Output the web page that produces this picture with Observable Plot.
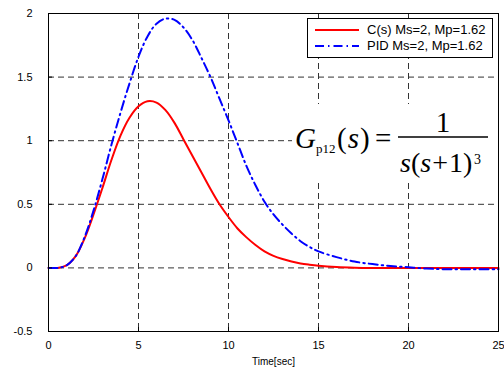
<!DOCTYPE html>
<html>
<head>
<meta charset="utf-8">
<script src="https://cdn.jsdelivr.net/npm/d3@7"></script>
<script src="https://cdn.jsdelivr.net/npm/@observablehq/plot@0.6"></script>
<style>
  html, body { margin: 0; padding: 0; background: #fff; }
  #wrap { position: relative; width: 504px; height: 368px; font-family: "Liberation Sans", Arial, sans-serif; }
  #legend { position: absolute; left: 307px; top: 18px; width: 186px; height: 40px; border: 1px solid #000; background: #fff; box-sizing: border-box; }
  .item { position: absolute; left: 0; height: 16px; font-size: 13px; line-height: 16px; color: #000; white-space: nowrap; }
  .item svg { position: absolute; left: 7px; top: 4px; }
  .item span { position: absolute; left: 59px; top: 0; }
  #formula { position: absolute; left: 0; top: 0; }
</style>
</head>
<body>
<div id="wrap"></div>
<script>
const time = [0,0.5,1,1.5,2,2.5,3,3.5,4,4.5,5,5.5,6,6.5,7,7.5,8,8.5,9,9.5,10,10.5,11,11.5,12,12.5,13,13.5,14,14.5,15,16,17,18,19,20,21,22,23,24,25];
const cs  = [0,0,0.02,0.09,0.23,0.42,0.63,0.85,1.04,1.18,1.27,1.31,1.30,1.24,1.14,1.01,0.88,0.75,0.62,0.50,0.40,0.31,0.24,0.18,0.13,0.095,0.07,0.05,0.035,0.025,0.017,0.007,0.002,0,0,0,0,0,0,0,0];
const pid = [0,0,0.02,0.09,0.24,0.45,0.70,0.97,1.22,1.45,1.66,1.82,1.92,1.96,1.95,1.89,1.79,1.65,1.50,1.33,1.16,0.98,0.80,0.65,0.52,0.42,0.34,0.27,0.21,0.165,0.13,0.085,0.05,0.03,0.015,0.005,-0.005,-0.01,-0.01,-0.01,-0.01];
const xTicks = [0,5,10,15,20,25];
const yTicks = [-0.5,0,0.5,1,1.5,2];
const xGrid = [5,10,15,20];
const yGrid = [0,0.5,1,1.5];
const seriesNames = ["C(s) Ms=2, Mp=1.62", "PID Ms=2, Mp=1.62"];

const rowsC = time.map((t,i) => ({t, v: cs[i]}));
const rowsP = time.map((t,i) => ({t, v: pid[i]}));
const fmt = d => String(d);

const chart = Plot.plot({
  width: 504, height: 368,
  marginLeft: 48, marginRight: 6, marginTop: 13, marginBottom: 37,
  style: { fontFamily: "Liberation Sans, Arial, sans-serif", fontSize: "11px", color: "#000", background: "#fff" },
  x: { domain: [0,25] },
  y: { domain: [-0.5,2] },
  marks: [
    Plot.gridX(xGrid, { stroke: "#333", strokeOpacity: 1, strokeDasharray: "6,4" }),
    Plot.gridY(yGrid, { stroke: "#333", strokeOpacity: 1, strokeDasharray: "6,4" }),
    Plot.line(rowsC, { x: "t", y: "v", stroke: "#ff0000", strokeWidth: 2, curve: "catmull-rom" }),
    Plot.line(rowsP, { x: "t", y: "v", stroke: "#0000ff", strokeWidth: 2, strokeDasharray: "9,4,1.5,4", curve: "catmull-rom" }),
    Plot.frame({ stroke: "#000", strokeWidth: 1 }),
    Plot.axisX(xTicks, { anchor: "bottom", tickSize: -4, tickPadding: 14, label: null, fontSize: 11, tickFormat: fmt }),
    Plot.axisY(yTicks, { anchor: "left", tickSize: -4, tickPadding: 20, label: null, fontSize: 11, tickFormat: fmt }),
    Plot.text(["Time[sec]"], { frameAnchor: "bottom", dy: 33, fontSize: 10, fill: "#000" })
  ]
});
const wrap = document.getElementById("wrap");
wrap.appendChild(chart);

const legend = document.createElement("div");
legend.id = "legend";
legend.innerHTML = `
  <div class="item" style="top:3px"><svg width="44" height="8"><line x1="0" y1="4" x2="44" y2="4" stroke="#ff0000" stroke-width="2"/></svg><span>${seriesNames[0]}</span></div>
  <div class="item" style="top:19px"><svg width="44" height="8"><line x1="0" y1="4" x2="44" y2="4" stroke="#0000ff" stroke-width="2" stroke-dasharray="9,4,1.5,4"/></svg><span>${seriesNames[1]}</span></div>`;
wrap.appendChild(legend);

const ns = "http://www.w3.org/2000/svg";
const f = document.createElementNS(ns, "svg");
f.setAttribute("id", "formula");
f.setAttribute("width", 504); f.setAttribute("height", 368);
f.style.position = "absolute"; f.style.pointerEvents = "none";
f.innerHTML = `
  <rect x="292" y="104" width="205" height="78" fill="#fff"/>
  <g font-family="Liberation Serif, Times New Roman, serif" fill="#000">
    <text x="295" y="148" font-size="29" font-style="italic">G</text>
    <text x="316" y="153" font-size="13">p12</text>
    <text x="337" y="148" font-size="29">(<tspan font-style="italic" dx="1">s</tspan><tspan dx="1">)</tspan></text>
    <text x="375" y="148" font-size="29">=</text>
    <line x1="398" y1="137" x2="488" y2="137" stroke="#000" stroke-width="1.5"/>
    <text x="443" y="132" font-size="29" text-anchor="middle">1</text>
    <text x="400" y="172" font-size="28"><tspan font-style="italic">s</tspan>(<tspan font-style="italic">s</tspan><tspan dx="1">+</tspan><tspan dx="1">1</tspan>)</text>
    <text x="474" y="164" font-size="14">3</text>
  </g>`;
wrap.appendChild(f);
</script>
</body>
</html>
